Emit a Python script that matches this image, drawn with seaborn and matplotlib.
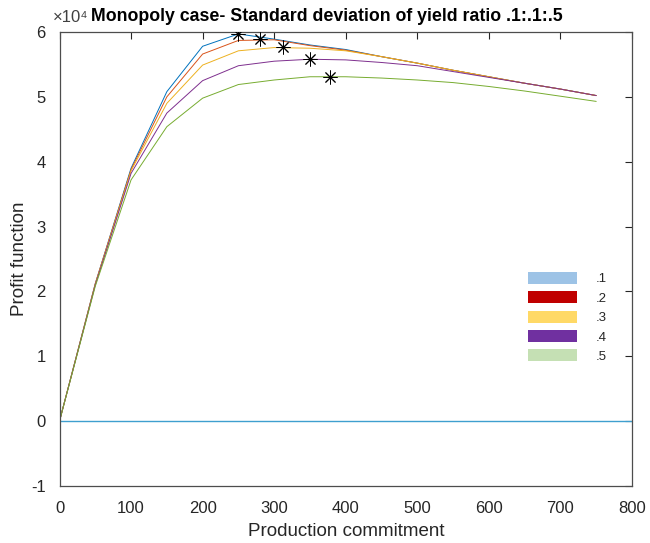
import matplotlib
matplotlib.use("Agg")
import matplotlib.pyplot as plt
from matplotlib.patches import Patch
import numpy as np
import pandas as pd
import seaborn as sns

# ---- data (values in units of 10^4) ----
commitment = [0, 50, 100, 150, 200, 250, 300, 350, 400, 450, 500, 550, 600, 650, 700, 750]
sd_1 = [0, 2.12, 3.90, 5.08, 5.78, 5.97, 5.89, 5.80, 5.73, 5.62, 5.52, 5.41, 5.31, 5.21, 5.12, 5.02]
sd_2 = [0, 2.12, 3.88, 5.00, 5.66, 5.87, 5.88, 5.79, 5.72, 5.62, 5.52, 5.41, 5.31, 5.21, 5.12, 5.02]
sd_3 = [0, 2.11, 3.86, 4.90, 5.49, 5.71, 5.76, 5.75, 5.71, 5.62, 5.52, 5.41, 5.31, 5.21, 5.12, 5.02]
sd_4 = [0, 2.10, 3.82, 4.75, 5.25, 5.48, 5.55, 5.58, 5.57, 5.53, 5.48, 5.39, 5.30, 5.21, 5.12, 5.02]
sd_5 = [0, 2.08, 3.72, 4.54, 4.98, 5.19, 5.26, 5.31, 5.31, 5.29, 5.26, 5.22, 5.16, 5.09, 5.01, 4.93]
series_labels = [".1", ".2", ".3", ".4", ".5"]
opt_x = [250, 280, 313, 350, 378]
opt_y = [5.97, 5.885, 5.765, 5.58, 5.31]
x_ticks = [0, 100, 200, 300, 400, 500, 600, 700, 800]
y_ticks = [-1, 0, 1, 2, 3, 4, 5, 6]

line_colors = ["#0072BD", "#D95319", "#EDB120", "#7E2F8E", "#77AC30"]
legend_colors = ["#9DC3E6", "#C00000", "#FFD966", "#7030A0", "#C5E0B4"]
zero_color = "#3F9FCF"

sns.set_theme(style="white")
plt.rcParams["font.family"] = ["Liberation Sans", "DejaVu Sans"]

df = pd.DataFrame({
    "x": commitment * 5,
    "y": sd_1 + sd_2 + sd_3 + sd_4 + sd_5,
    "sd": sum([[lab] * len(commitment) for lab in series_labels], []),
})

fig = plt.figure(figsize=(6.5, 5.43), dpi=100)
ax = fig.add_axes([59.5 / 650, 1 - 486 / 543, (632 - 59.5) / 650, (486 - 32) / 543])

ax.axhline(0, color=zero_color, lw=1.0, zorder=1)
sns.lineplot(data=df, x="x", y="y", hue="sd", palette=line_colors,
             hue_order=series_labels, legend=False, lw=0.7, ax=ax, sort=False)
sns.scatterplot(x=opt_x, y=opt_y, marker=(8, 2, 0), s=90, color="black",
                linewidth=0.7, ax=ax, zorder=5, legend=False)

ax.set_xlim(0, 800)
ax.set_ylim(-1, 6)
ax.set_xticks(x_ticks)
ax.set_yticks(y_ticks)
ax.set_xticklabels([str(v) for v in x_ticks])
ax.set_yticklabels([str(v) for v in y_ticks])
ax.tick_params(direction="in", length=5, width=0.8, top=True, right=True,
               labelsize=12, colors="#262626", labelcolor="#262626")
ax.tick_params(axis="x", pad=11)
ax.tick_params(axis="y", pad=10)
for s in ax.spines.values():
    s.set_color("#4d4d4d")
    s.set_linewidth(0.9)
ax.set_xlabel("Production commitment", fontsize=13.5, color="#262626", labelpad=5)
ax.set_ylabel("Profit function", fontsize=13.5, color="#262626", labelpad=2)

fig.text(88 / 650, 1 - 22 / 543, "\u00d710\u2074", fontsize=12, color="#404040",
         va="baseline", ha="right")
fig.text(327 / 650, 1 - 21 / 543, "Monopoly case- Standard deviation of yield ratio .1:.1:.5",
         fontsize=12.8, fontweight="bold", ha="center", va="baseline", color="black")

handles = [Patch(facecolor=c, edgecolor="none") for c in legend_colors]
fig.legend(handles, series_labels, loc="upper left",
           bbox_to_anchor=(528 / 650, 1 - 272 / 543), bbox_transform=fig.transFigure,
           frameon=False, fontsize=9.5, handlelength=3.7, handleheight=1.0,
           labelspacing=0.45, handletextpad=1.4, borderpad=0, borderaxespad=0)

fig.savefig("out.png", dpi=100)
